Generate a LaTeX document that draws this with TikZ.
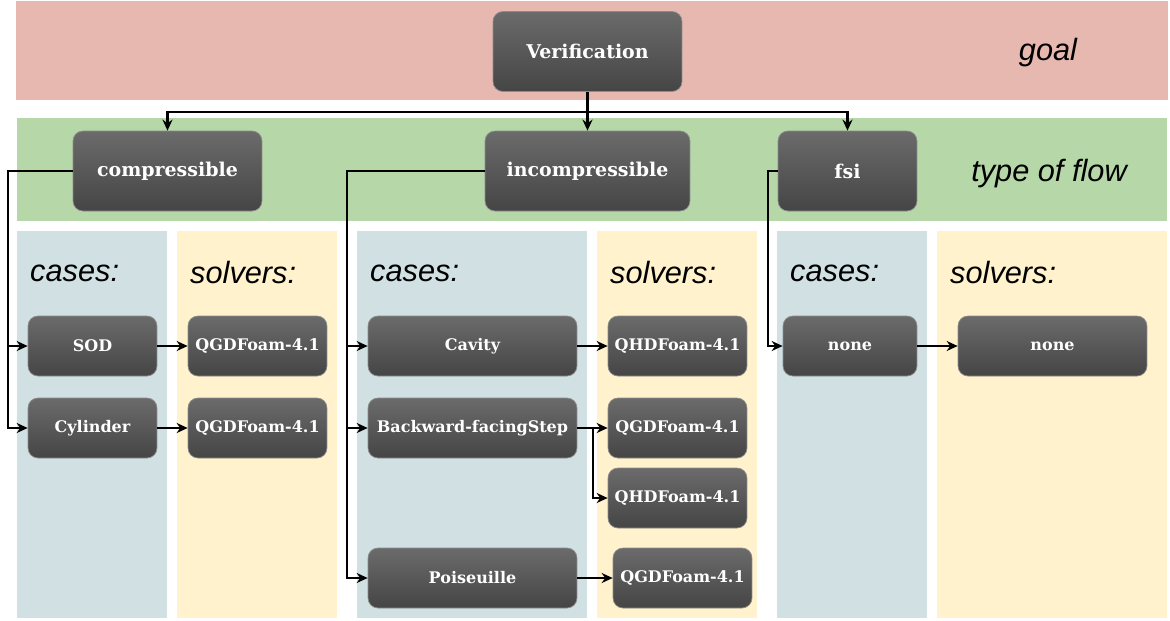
\documentclass[tikz,border=0pt]{standalone}
\usepackage{fontspec}
\setmainfont{DejaVu Serif}
\newfontfamily\labelfont{Liberation Sans}
\usetikzlibrary{arrows.meta}

\definecolor{goalred}{HTML}{E6B8AF}
\definecolor{flowgreen}{HTML}{B6D7A8}
\definecolor{caseblue}{HTML}{D0E0E3}
\definecolor{solveryellow}{HTML}{FFF2CC}
\definecolor{boxtop}{HTML}{6B6B6B}
\definecolor{boxbottom}{HTML}{454545}
\definecolor{boxline}{HTML}{8C8C8C}

\tikzset{
  box/.style={draw=boxline, top color=boxtop, bottom color=boxbottom, rounded corners=0.2cm, text=white, inner sep=0pt},
  bigbox/.style={box, minimum height=1.6cm, font=\bfseries\fontsize{10.8}{12}\selectfont},
  smallbox/.style={box, minimum height=1.2cm, font=\bfseries\fontsize{9.1}{10}\selectfont},
  arr/.style={-{Stealth[length=0.22cm, width=0.2cm]}, line width=0.045cm},
  tag/.style={font=\labelfont\itshape\fontsize{17.5}{20}\selectfont}
}

\begin{document}
\begin{tikzpicture}[x=0.02cm, y=-0.02cm]
	\useasboundingbox (0,0) rectangle (1170,620);
	%bands for goal and type of flow
	\fill [goalred] (16,1) rectangle (1168,100);
	\fill [flowgreen] (17,118) rectangle (1167,221);
	%columns for cases and solvers
	\fill [caseblue] (17,231) rectangle (167,618);
	\fill [solveryellow] (177,231) rectangle (337,618);
	\fill [caseblue] (357,231) rectangle (587,618);
	\fill [solveryellow] (597,231) rectangle (757,618);
	\fill [caseblue] (777,231) rectangle (927,618);
	\fill [solveryellow] (937,231) rectangle (1167,618);
	
	\node[tag] (goal) at (1048,53) {goal};
	\node[tag] (flow) at (1049,174) {type of flow};
	\node[tag, anchor=west] (cases1) at (24,273) {cases:};
	\node[tag, anchor=west] (solvers1) at (184,273) {solvers:};
	\node[tag, anchor=west] (cases2) at (364,273) {cases:};
	\node[tag, anchor=west] (solvers2) at (604,273) {solvers:};
	\node[tag, anchor=west] (cases3) at (784,273) {cases:};
	\node[tag, anchor=west] (solvers3) at (944,273) {solvers:};
	
	%goal and types of flow
	\node[bigbox, minimum width=3.78cm] (verif) at (587.5,51.5) {Verification};
	\node[bigbox, minimum width=3.78cm] (comp) at (167.5,171) {compressible};
	\node[bigbox, minimum width=4.1cm] (incomp) at (587.5,171) {incompressible};
	\node[bigbox, minimum width=2.78cm] (fsi) at (847.5,171) {fsi};
	
	%cases and solvers
	\node[smallbox, minimum width=2.58cm] (sod) at (92.5,346) {SOD};
	\node[smallbox, minimum width=2.58cm] (cyl) at (92.5,428) {Cylinder};
	\node[smallbox, minimum width=2.78cm] (qgdsod) at (257.5,346) {QGDFoam-4.1};
	\node[smallbox, minimum width=2.78cm] (qgdcyl) at (257.5,428) {QGDFoam-4.1};
	\node[smallbox, minimum width=4.18cm] (cav) at (472.5,346) {Cavity};
	\node[smallbox, minimum width=4.18cm] (bfs) at (472.5,428) {Backward-facingStep};
	\node[smallbox, minimum width=4.18cm] (pois) at (472.5,578) {Poiseuille};
	\node[smallbox, minimum width=2.78cm] (qhdcav) at (677.5,346) {QHDFoam-4.1};
	\node[smallbox, minimum width=2.78cm] (qgdbfs) at (677.5,428) {QGDFoam-4.1};
	\node[smallbox, minimum width=2.78cm] (qhdbfs) at (677.5,498) {QHDFoam-4.1};
	\node[smallbox, minimum width=2.78cm] (qgdpois) at (682.5,578) {QGDFoam-4.1};
	\node[smallbox, minimum width=2.68cm] (nonecase) at (850,346) {none};
	\node[smallbox, minimum width=3.78cm] (nonesolver) at (1052.5,346) {none};
	
	%connectors
	\coordinate (split) at (587.5,112);
	\draw[arr] (verif.south) -- (incomp.north);
	\draw[arr] (split) -| (comp.north);
	\draw[arr] (split) -| (fsi.north);
	
	\draw[arr] (comp.west) -- ++(-65,0) |- (sod.west);
	\draw[arr] (comp.west) -- ++(-65,0) |- (cyl.west);
	\draw[arr] (incomp.west) -- ++(-138,0) |- (cav.west);
	\draw[arr] (incomp.west) -- ++(-138,0) |- (bfs.west);
	\draw[arr] (incomp.west) -- ++(-138,0) |- (pois.west);
	\draw[arr] (fsi.west) -- ++(-10,0) |- (nonecase.west);
	
	\draw[arr] (sod) -- (qgdsod);
	\draw[arr] (cyl) -- (qgdcyl);
	\draw[arr] (cav) -- (qhdcav);
	\draw[arr] (bfs) -- (qgdbfs);
	\draw[arr] (bfs.east) -- ++(16,0) |- (qhdbfs.west);
	\draw[arr] (pois) -- (qgdpois);
	\draw[arr] (nonecase) -- (nonesolver);
\end{tikzpicture}
\end{document}
